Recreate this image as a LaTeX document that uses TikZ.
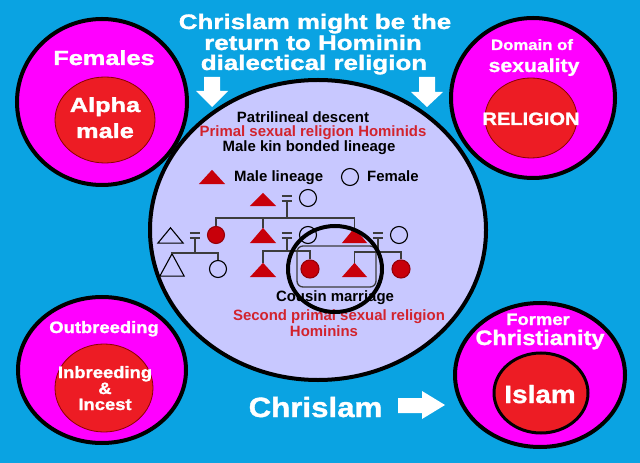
\documentclass[tikz,border=0pt]{standalone}
\usepackage{fontspec}
\setmainfont{Liberation Sans}
\newfontfamily\hvA[FakeStretch=1.12, BoldFeatures={FakeBold=1.3}]{Liberation Sans}
\newfontfamily\hvB[FakeStretch=1.24, BoldFeatures={FakeBold=1.5}]{Liberation Sans}
\usetikzlibrary{shapes.geometric}
\definecolor{bgblue}{RGB}{10,163,226}
\definecolor{mag}{RGB}{255,0,255}
\definecolor{pred}{RGB}{237,28,36}
\definecolor{dred}{RGB}{140,0,0}
\definecolor{lav}{RGB}{200,200,255}
\definecolor{tred}{RGB}{210,35,45}
\definecolor{pedred}{RGB}{200,0,10}
\definecolor{pgray}{RGB}{60,60,60}
\newcommand\fs[1]{\fontsize{#1}{#1}\selectfont}
\begin{document}
\begin{tikzpicture}[x=1bp,y=-1bp,
  outer/.style={ellipse, draw=black, line width=4bp, fill=mag, inner sep=0},
  innerred/.style={ellipse, draw=dred, line width=0.8bp, fill=pred, inner sep=0},
  wtxt/.style={text=white, inner sep=0, anchor=base},
  ctxt/.style={font=\bfseries\fs{15}, inner sep=0, anchor=base},
  pline/.style={draw=pgray, line width=1.3bp},
  fem/.style={circle, draw=black, line width=1.1bp, minimum size=17bp, inner sep=0},
  femred/.style={fem, fill=pedred, draw=pedred!75!black},
  tribox/.style={rectangle, minimum width=26bp, minimum height=15bp, inner sep=0},
  eqbox/.style={rectangle, minimum width=10bp, minimum height=5bp, inner sep=0},
  bigarrow/.style={fill=white}]
\useasboundingbox (0,0) rectangle (640,463);
\fill[bgblue] (0,0) rectangle (640,463);

% central circle
\node[ellipse, draw=black, line width=4bp, fill=lav, minimum width=336bp, minimum height=300bp, inner sep=0] (mid) at (318,230) {};

% top-left
\node[outer, minimum width=170bp, minimum height=166bp] (tl) at (102,102) {};
\node[innerred, minimum width=100bp, minimum height=86bp] (tli) at (105,120) {};
\node[wtxt, font=\hvB\bfseries\fs{20.5}] (females) at (104,65) {Females};
\node[wtxt, font=\hvB\bfseries\fs{20.5}] (alpha) at (105,112) {Alpha};
\node[wtxt, font=\hvB\bfseries\fs{20.5}] (male) at (105,138) {male};

% top-right
\node[outer, minimum width=164bp, minimum height=160bp] (tr) at (533,98) {};
\node[innerred, minimum width=92bp, minimum height=80bp] (tri) at (531,118) {};
\node[wtxt, font=\hvA\bfseries\fs{15}] (domain) at (532,50) {Domain of};
\node[wtxt, font=\hvA\bfseries\fs{19}] (sexuality) at (534,72) {sexuality};
\node[wtxt, font=\hvA\bfseries\fs{18}] (religion) at (531,125) {RELIGION};

% bottom-left
\node[outer, minimum width=168bp, minimum height=146bp] (bl) at (102,370) {};
\node[innerred, minimum width=98bp, minimum height=88bp] (bli) at (104,388) {};
\node[wtxt, font=\hvA\bfseries\fs{16.5}] (outb) at (104,333) {Outbreeding};
\node[wtxt, font=\hvA\bfseries\fs{16.5}] (inb) at (105,378) {Inbreeding};
\node[wtxt, font=\hvA\bfseries\fs{16.5}] (amp) at (105,394) {\&};
\node[wtxt, font=\hvA\bfseries\fs{16.5}] (incest) at (105,410) {Incest};

% bottom-right
\node[outer, minimum width=170bp, minimum height=144bp] (br) at (540,375) {};
\node[ellipse, draw=black, line width=3bp, fill=pred, inner sep=0, minimum width=94bp, minimum height=80bp] (bri) at (541,393) {};
\node[wtxt, font=\hvA\bfseries\fs{16.5}] (former) at (538,325) {Former};
\node[wtxt, font=\hvA\bfseries\fs{21}] (christ) at (540,345) {Christianity};
\node[wtxt, font=\hvA\bfseries\fs{25}] (islam) at (540,403) {Islam};

% title
\node[wtxt, font=\hvB\bfseries\fs{21}] (t1) at (315,29) {Chrislam might be the};
\node[wtxt, font=\hvB\bfseries\fs{21}] (t2l) at (313,50) {return to Hominin};
\node[wtxt, font=\hvB\bfseries\fs{21}] (t3l) at (314,70) {dialectical religion};

% white block arrows
\fill[bigarrow] (204,77) -- (220,77) -- (220,91) -- (228,91) -- (212,107) -- (196,91) -- (204,91) -- cycle;
\fill[bigarrow] (419,77) -- (435,77) -- (435,92) -- (443,92) -- (427,107) -- (411,92) -- (419,92) -- cycle;
\fill[bigarrow] (398,398) -- (422,398) -- (422,391) -- (445,405) -- (422,419) -- (422,413) -- (398,413) -- cycle;
\node[wtxt, font=\hvA\bfseries\fs{28}] (chrislam) at (315.5,417) {Chrislam};

% central texts
\node[ctxt] (patri) at (303,123) {Patrilineal descent};
\node[ctxt, text=tred] (primal) at (313,137) {Primal sexual religion Hominids};
\node[ctxt] (malekin) at (309,152) {Male kin bonded lineage};

% legend
\node[tribox, minimum height=14bp] (lt) at (212,177) {};
\node[ctxt, anchor=base west] (mlin) at (234,182) {Male lineage};
\node[fem] (lc) at (350,177) {};
\node[ctxt, anchor=base west] (fem) at (367,182) {Female};

% pedigree nodes
\node[tribox, minimum height=13bp] (t0) at (263,199.5) {};
\node[eqbox] (e0) at (287,198.5) {};
\node[fem] (wc0) at (308,198) {};

\node[tribox, minimum width=25bp] (wt1) at (170.5,235.5) {};
\node[eqbox] (e1) at (195,235.5) {};
\node[femred] (c1) at (216,235) {};

\node[tribox] (t2) at (263,235.5) {};
\node[eqbox] (e2) at (287,235.5) {};
\node[fem] (wc1) at (308,235) {};

\node[tribox, minimum width=25bp] (t3) at (354.5,235.5) {};
\node[eqbox] (e3) at (378,235.5) {};
\node[fem] (wc3) at (399,235) {};

\node[tribox, minimum width=24bp, minimum height=22bp] (wt2) at (172,265) {};
\node[fem] (wc2) at (218,269) {};
\node[tribox, minimum height=14bp] (t4) at (263,270) {};
\node[femred, minimum size=18bp] (rc2) at (310,269) {};
\node[tribox, minimum width=25bp, minimum height=14bp] (t5) at (354.5,270) {};
\node[femred, minimum size=18bp] (rc3) at (401,269) {};

\foreach \n in {lt,t0,t2,t3,t4,t5}
  \fill[pedred] (\n.south west) -- (\n.north) -- (\n.south east) -- cycle;
\foreach \n in {wt1,wt2}
  \draw[black, line width=1.1bp, line join=miter] (\n.south west) -- (\n.north) -- (\n.south east) -- cycle;
\foreach \n in {e0,e1,e2,e3}
  \draw[pgray, line width=1.9bp] (\n.north west) -- (\n.north east) (\n.south west) -- (\n.south east);

% connectors
\coordinate (j0) at (287,218);
\coordinate (j1) at (195,253);
\coordinate (j2) at (287,251);
\coordinate (j3) at (378,252);
\draw[pline] (e0.south) -- (j0);
\draw[pline] (c1.north) |- (j0) -| (t3.north);
\draw[pline] (t2.north) -- (t2.north |- j0);
\draw[pline] (e1.south) -- (j1);
\draw[pline] (wt2.north) |- (j1) -| (wc2.north);
\draw[pline] (e2.south) -- (j2);
\draw[pline] (t4.north) |- (j2) -| (rc2.north);
\draw[pline] (e3.south) -- (j3);
\draw[pline] (t5.north) |- (j3) -| (rc3.north);

% cousin marriage box
\node[rectangle, rounded corners=6bp, draw=pgray, line width=1.3bp, minimum width=79bp, minimum height=41bp, inner sep=0] (cbox) at (336.5,266.5) {};

% lower central texts
\node[ctxt] (cousin) at (335,302) {Cousin marriage};
\node[ctxt, text=tred] (second) at (339,320) {Second primal sexual religion};
\node[ctxt, text=tred] (hominins) at (324,336) {Hominins};

% black ring
\node[ellipse, draw=black, line width=4bp, minimum width=94bp, minimum height=86bp, inner sep=0] (ring) at (335,269) {};
\end{tikzpicture}
\end{document}
